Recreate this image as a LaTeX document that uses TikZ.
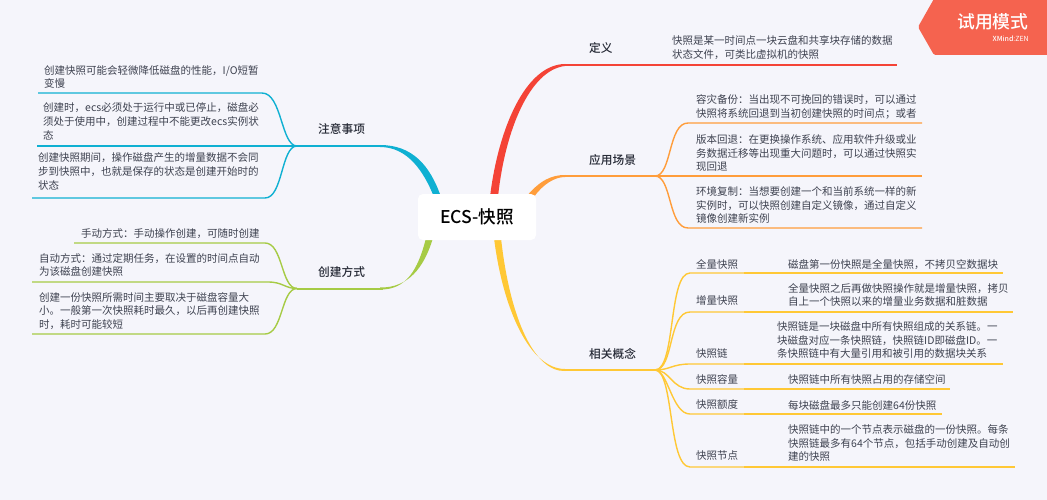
\documentclass[tikz,border=0pt]{standalone}
\usepackage{fontspec}
\setmainfont{Noto Sans CJK SC}[BoldFont=* Medium]
\definecolor{bgc}{HTML}{F5F5FB}
\definecolor{txtc}{HTML}{3E4250}
\definecolor{headc}{HTML}{262A36}
\definecolor{redc}{HTML}{F44336}
\definecolor{orangec}{HTML}{FF9D3B}
\definecolor{yellowc}{HTML}{FFC835}
\definecolor{greenc}{HTML}{A6CB45}
\definecolor{bluec}{HTML}{0FB0D2}
\definecolor{badgec}{HTML}{F5634F}
\tikzset{
  x=1pt,y=-1pt,
  body/.style={anchor=west,inner sep=0pt,align=left,text=txtc,font=\fontsize{10.5}{13.9}\selectfont},
  topic/.style={anchor=west,inner sep=0pt,text=headc,font=\fontsize{11.7}{14}\selectfont\bfseries},
  sub/.style={anchor=west,inner sep=0pt,text=txtc,font=\fontsize{10.5}{14}\selectfont},
  rootbox/.style={fill=white,rounded corners=5pt,minimum width=118pt,minimum height=46pt,inner sep=0pt,text=black,font=\fontsize{17.6}{22}\selectfont\bfseries},
  main/.style={line width=2pt},
  leaf/.style={line width=1.4pt},
  thin leaf/.style={line width=1.1pt},
}
\begin{document}
\begin{tikzpicture}
\useasboundingbox (0,0) rectangle (1047,500);
\fill[bgc] (0,0) rectangle (1047,500);

% joints and line ends
\coordinate (jBlue) at (297,146);
\coordinate (jBlueEnd) at (383,146);
\coordinate (b1a) at (262,93);   \coordinate (b1b) at (38,93);
\coordinate (b2b) at (37,146);
\coordinate (b3a) at (265,198);  \coordinate (b3b) at (32,198);
\coordinate (jGreen) at (297,288.5);
\coordinate (jGreenEnd) at (383,288.5);
\coordinate (g1a) at (265,243);  \coordinate (g1b) at (74,243);
\coordinate (g2a) at (268,282);  \coordinate (g2b) at (32,282);
\coordinate (g3a) at (265,334);  \coordinate (g3b) at (32,334);
\coordinate (redEnd) at (565,65);  \coordinate (redLeaf) at (897,65);
\coordinate (orEnd) at (565,176);  \coordinate (jOr) at (655,176);
\coordinate (o1a) at (688,123);  \coordinate (o1b) at (922,123);
\coordinate (o2b) at (922,176);
\coordinate (o3a) at (688,228);  \coordinate (o3b) at (922,228);
\coordinate (yeEnd) at (565,370); \coordinate (jYe) at (655,370);
\foreach \n/\y/\e in {1/273/1003,2/312/1013,3/364/1003,4/389/950,5/414/942,6/467/1015}{
  \coordinate (y\n a) at (690,\y);
  \coordinate (y\n m) at (744,\y);
  \coordinate (y\n b) at (\e,\y);
}

% tapered main branches
\fill[redc] (490,197) .. controls (498,130) and (525,64.5) .. (565,64) -- (565,66) .. controls (530,70) and (505,130) .. (498,197) -- cycle;
\fill[orangec] (526,197) .. controls (540,180) and (552,175) .. (565,175) -- (565,177) .. controls (555,177) and (543,184) .. (534,197) -- cycle;
\fill[yellowc] (494,238) .. controls (503,310) and (530,369) .. (565,369) -- (565,371) .. controls (535,372) and (510,320) .. (501,238) -- cycle;
\fill[bluec] (441,197) .. controls (430,165) and (412,145) .. (380,145) -- (380,147) .. controls (408,147) and (424,172) .. (434,197) -- cycle;
\fill[greenc] (433,238) .. controls (424,268) and (408,288) .. (380,287.5) -- (380,289.5) .. controls (406,290) and (418,270) .. (426,238) -- cycle;

% red
\draw[redc,leaf] (redEnd) -- (redLeaf);
% orange
\draw[orangec,main] (orEnd) -- (jOr);
\draw[orangec,leaf] (jOr) .. controls (672,176) and (668,123) .. (o1a) -- (o1b);
\draw[orangec,leaf] (jOr) -- (o2b);
\draw[orangec,leaf] (jOr) .. controls (672,176) and (668,228) .. (o3a) -- (o3b);
% yellow
\draw[yellowc,main] (yeEnd) -- (jYe);
\draw[yellowc,leaf] (jYe) .. controls (676,370) and (668,273) .. (y1a) -- (y1m);
\draw[yellowc,leaf] (jYe) .. controls (674,370) and (668,312) .. (y2a) -- (y2m);
\draw[yellowc,leaf] (jYe) .. controls (670,370) and (672,364) .. (y3a) -- (y3m);
\draw[yellowc,leaf] (jYe) .. controls (670,370) and (672,389) .. (y4a) -- (y4m);
\draw[yellowc,leaf] (jYe) .. controls (668,370) and (672,414) .. (y5a) -- (y5m);
\draw[yellowc,leaf] (jYe) .. controls (674,370) and (668,467) .. (y6a) -- (y6m);
\foreach \n in {1,...,6}{\draw[yellowc,thin leaf] (y\n m) -- (y\n b);}
% blue
\draw[bluec,main] (jBlueEnd) -- (jBlue);
\draw[bluec,leaf] (jBlue) .. controls (281,146) and (282,93) .. (b1a) -- (b1b);
\draw[bluec,leaf] (jBlue) -- (b2b);
\draw[bluec,leaf] (jBlue) .. controls (281,146) and (283,198) .. (b3a) -- (b3b);
% green
\draw[greenc,main] (jGreenEnd) -- (jGreen);
\draw[greenc,leaf] (jGreen) .. controls (281,288.5) and (283,243) .. (g1a) -- (g1b);
\draw[greenc,leaf] (jGreen) .. controls (285,288.5) and (283,282) .. (g2a) -- (g2b);
\draw[greenc,leaf] (jGreen) .. controls (281,288.5) and (283,334) .. (g3a) -- (g3b);

% root
\node[rootbox] (root) at (477,217) {ECS-快照};

% topics
\node[topic] (tDef) at (589,48) {定义};
\node[topic] (tApp) at (589,160) {应用场景};
\node[topic] (tCon) at (589,354) {相关概念};
\node[topic] (tNote) at (318,129.5) {注意事项};
\node[topic] (tWay) at (318,272.5) {创建方式};

% right texts
\node[body] (dDef) at (672,48) {快照是某一时间点一块云盘和共享块存储的数据\\状态文件，可类比虚拟机的快照};
\node[body] (a1) at (696,107) {容灾备份：当出现不可挽回的错误时，可以通过\\快照将系统回退到当初创建快照的时间点；或者};
\node[body] (a2) at (696,153) {版本回退：在更换操作系统、应用软件升级或业\\务数据迁移等出现重大问题时，可以通过快照实\\现回退};
\node[body] (a3) at (696,205) {环境复制：当想要创建一个和当前系统一样的新\\实例时，可以快照创建自定义镜像，通过自定义\\镜像创建新实例};

\node[sub] (s1) at (696,264) {全量快照};
\node[sub] (s2) at (696,301) {增量快照};
\node[sub] (s3) at (696,354) {快照链};
\node[sub] (s4) at (696,379) {快照容量};
\node[sub] (s5) at (696,405) {快照额度};
\node[sub] (s6) at (696,456) {快照节点};

\node[body] (c1) at (788,264.6) {磁盘第一份快照是全量快照，不拷贝空数据块};
\node[body] (c2) at (788,295) {全量快照之后再做快照操作就是增量快照，拷贝\\自上一个快照以来的增量业务数据和脏数据};
\node[body] (c3) at (777,340) {快照链是一块磁盘中所有快照组成的关系链。一\\块磁盘对应一条快照链，快照链ID即磁盘ID。一\\条快照链中有大量引用和被引用的数据块关系};
\node[body] (c4) at (788,379.6) {快照链中所有快照占用的存储空间};
\node[body] (c5) at (788,405.6) {每块磁盘最多只能创建64份快照};
\node[body] (c6) at (788,443) {快照链中的一个节点表示磁盘的一份快照。每条\\快照链最多有64个节点，包括手动创建及自动创\\建的快照};

% left texts
\node[body] (n1) at (44,77) {创建快照可能会轻微降低磁盘的性能，I/O短暂\\变慢};
\node[body] (n2) at (43,121) {创建时，ecs必须处于运行中或已停止，磁盘必\\须处于使用中，创建过程中不能更改ecs实例状\\态};
\node[body] (n3) at (38,171.5) {创建快照期间，操作磁盘产生的增量数据不会同\\步到快照中，也就是保存的状态是创建开始时的\\状态};
\node[body] (w1) at (81,233.6) {手动方式：手动操作创建，可随时创建};
\node[body] (w2) at (39,265) {自动方式：通过定期任务，在设置的时间点自动\\为该磁盘创建快照};
\node[body] (w3) at (39,311) {创建一份快照所需时间主要取决于磁盘容量大\\小。一般第一次快照耗时最久，以后再创建快照\\时，耗时可能较短};

% badge
\fill[badgec,rounded corners=1.5pt] (935,-3) -- (918,27) -- (934,55) -- (1050,55) -- (1050,-3) -- cycle;
\node[anchor=west,inner sep=0pt,text=white,font=\fontsize{17.8}{20}\selectfont\bfseries] (bt) at (957,22) {试用模式};
\node[anchor=east,inner sep=0pt,text=white,font=\fontsize{7}{8}\selectfont] (bs) at (1029,38.5) {\textbf{XMind}:ZEN};
\end{tikzpicture}
\end{document}
